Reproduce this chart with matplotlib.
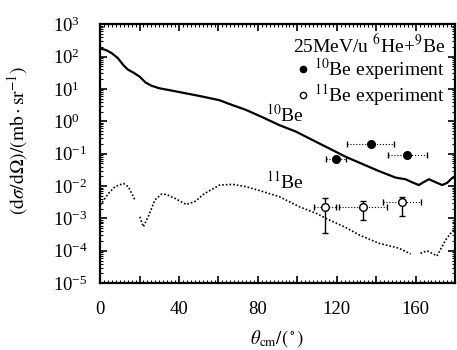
import numpy as np
import matplotlib
matplotlib.use('Agg')
import matplotlib.pyplot as plt
from matplotlib.ticker import MultipleLocator, LogLocator, NullFormatter
from matplotlib.lines import Line2D

plt.rcParams['font.family'] = ['Liberation Serif', 'DejaVu Serif']
plt.rcParams['mathtext.fontset'] = 'stix'

# 10Be calculation (solid)
be10_theta = [0, 3, 6, 9, 12, 14, 17, 20, 23, 26, 30, 37, 50.5, 60.6, 65.7, 74, 82.5,
              90.9, 99.3, 107.7, 116.2, 124.6, 133, 141.4, 149.8, 154.8, 158, 161.6,
              164, 166.7, 170, 173.4, 176, 178.3, 180]
be10_logxs = [2.25, 2.2, 2.1, 1.95, 1.72, 1.6, 1.5, 1.38, 1.2, 1.1, 1.02, 0.94, 0.78,
              0.65, 0.53, 0.35, 0.12, -0.12, -0.32, -0.58, -0.84, -1.10, -1.32, -1.54,
              -1.74, -1.79, -1.88, -1.97, -1.88, -1.79, -1.88, -1.97, -1.90, -1.76,
              -1.72]

# 11Be calculation (dotted), NaN marks the breaks in the curve
be11_theta = [0, 0.8, 4.2, 7.6, 11.8, 14.3, 17.7, 19.0, 20.2, 21.9, 24.4, 27.8, 31.1,
              33.6, 37.9, 43.7, 48, 53, 60.6, 67.3, 74, 80.8, 90.9, 101, 109.4,
              116.2, 124.5, 131.3, 141.4, 151.5, 157.4, 160, 162.4, 165.8, 170.8,
              175.1, 178.4, 180]
be11_logxs = [-2.6, -2.53, -2.23, -2.02, -1.92, -2.02, -2.43, np.nan, -2.95, -3.26,
              -2.95, -2.43, -2.25, -2.26, -2.38, -2.57, -2.48, -2.23, -1.97, -1.95,
              -2.02, -2.14, -2.33, -2.64, -2.84, -3.05, -3.28, -3.51, -3.77, -3.92,
              -4.10, np.nan, -4.08, -4.0, -4.16, -3.67, -3.41, -3.3]

# experimental points
exp10_theta = [119.5, 137.2, 155.7]
exp10_xs = [0.07, 0.2, 0.09]
exp10_dtheta = [5, 12, 10]

exp11_theta = [114.1, 133.3, 153.2]
exp11_xs = [2.3e-3, 2.3e-3, 3.3e-3]
exp11_dtheta = [5.5, 12, 9.7]
exp11_lo = [3.5e-4, 9e-4, 1.2e-3]
exp11_hi = [4.2e-3, 3.5e-3, 4.7e-3]

fig = plt.figure(figsize=(4.57, 3.5), dpi=100)
ax = fig.add_axes([0.219, 0.191, 0.777, 0.74])

ax.plot(be10_theta, 10 ** np.array(be10_logxs), 'k-', lw=1.6)
ax.plot(be11_theta, 10 ** np.array(be11_logxs), 'k', ls=(0, (1, 1.2)), lw=1.2)

# horizontal bars are dotted, vertical ones solid
eb = ax.errorbar(exp10_theta, exp10_xs, xerr=exp10_dtheta, fmt='o', color='k', ms=5.5,
                 capsize=2, elinewidth=0.8)
eb[2][0].set_linestyle(':')
eb = ax.errorbar(exp11_theta, exp11_xs, xerr=exp11_dtheta, fmt='none', ecolor='k',
                 capsize=2, elinewidth=0.8)
eb[2][0].set_linestyle(':')
yerr = [np.array(exp11_xs) - np.array(exp11_lo), np.array(exp11_hi) - np.array(exp11_xs)]
ax.errorbar(exp11_theta, exp11_xs, yerr=yerr, fmt='o', mfc='white', mec='k', ecolor='k',
            ms=5.5, capsize=2, elinewidth=1.0)

ax.set_yscale('log')
ax.set_xlim(0, 180)
ax.set_ylim(1e-5, 1e3)

ax.set_xticks(range(0, 181, 20))
ax.set_xticklabels([str(v) if v % 40 == 0 and v < 180 else '' for v in range(0, 181, 20)])
ax.xaxis.set_minor_locator(MultipleLocator(2))
ax.yaxis.set_major_locator(LogLocator(base=10, numticks=20))
ax.yaxis.set_minor_locator(LogLocator(base=10, subs=np.arange(2, 10), numticks=20))
ax.yaxis.set_minor_formatter(NullFormatter())

ax.tick_params(which='both', direction='in', top=True, right=True, labelsize=13.5)
ax.tick_params(which='major', length=5, width=1.2)
ax.tick_params(which='minor', length=2.5, width=0.8)
ax.tick_params(axis='x', pad=13)
# y tick labels are left-aligned in the original
ax.tick_params(axis='y', pad=34)
for lbl in ax.get_yticklabels():
    lbl.set_horizontalalignment('left')
for s in ax.spines.values():
    s.set_linewidth(1.6)

ax.set_xlabel(r'$\theta_{\rm cm}/(^\circ)$', fontsize=13.5)
ax.xaxis.set_label_coords(0.5, -0.172)
ax.set_ylabel(r'$({\rm d}\sigma/{\rm d}\Omega)/({\rm mb\cdot sr^{-1}})$', fontsize=14)
ax.yaxis.set_label_coords(-0.198, 0.55)

handles = [Line2D([], [], marker='o', color='k', ls='none', ms=4.5),
           Line2D([], [], marker='o', mfc='white', mec='k', ls='none', ms=4.5)]
leg = ax.legend(handles, [r'$^{10}$Be experiment', r'$^{11}$Be experiment'],
                title=r'25MeV/u $^{6}$He+$^{9}$Be', loc='upper right', frameon=False,
                fontsize=14, title_fontsize=14, handletextpad=0.1, handlelength=1.0,
                borderaxespad=0.1, labelspacing=0.0)
leg._legend_box.align = 'right'

ax.text(84, 1.6, r'$^{10}$Be', fontsize=14, ha='left', va='center')
ax.text(84, 1.4e-2, r'$^{11}$Be', fontsize=14, ha='left', va='center')

fig.savefig('out.png', dpi=100)
